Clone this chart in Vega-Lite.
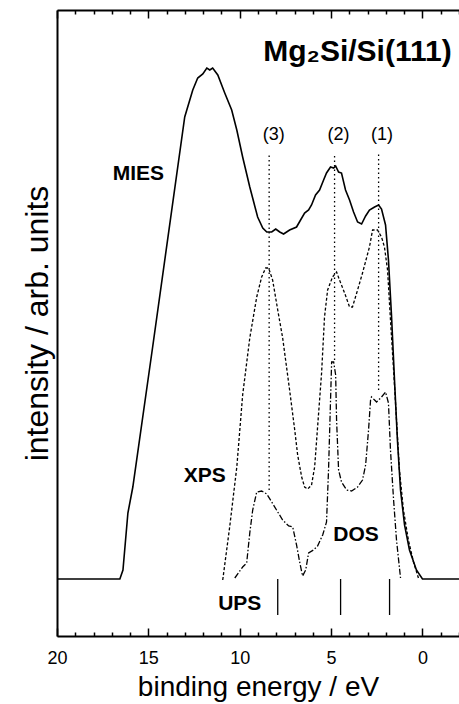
{
  "$schema": "https://vega.github.io/schema/vega-lite/v6.json",
  "autosize": "none",
  "width": 402,
  "height": 626,
  "padding": {"left": 57, "top": 10, "right": 0, "bottom": 68},
  "background": "white",
  "config": {
    "view": {"stroke": null},
    "font": "Liberation Sans",
    "axis": {"grid": false, "domainColor": "black", "tickColor": "black", "labelColor": "black", "titleColor": "black", "labelFont": "Liberation Sans", "titleFont": "Liberation Sans"}
  },
  "datasets": {
    "mies": [
      {"e": 20, "v": 57}, {"e": 16.56, "v": 57}, {"e": 16.39, "v": 66}, {"e": 16.12, "v": 123}, {"e": 15.85, "v": 149},
      {"e": 14.75, "v": 291}, {"e": 13.01, "v": 519}, {"e": 12.57, "v": 546}, {"e": 12.30, "v": 558}, {"e": 12.02, "v": 562},
      {"e": 11.80, "v": 568}, {"e": 11.64, "v": 566}, {"e": 11.48, "v": 568}, {"e": 11.20, "v": 561}, {"e": 10.82, "v": 543},
      {"e": 10.44, "v": 526}, {"e": 10.16, "v": 506}, {"e": 9.84, "v": 479}, {"e": 9.45, "v": 449}, {"e": 9.02, "v": 419},
      {"e": 8.74, "v": 408}, {"e": 8.52, "v": 404}, {"e": 8.25, "v": 404}, {"e": 8.03, "v": 407}, {"e": 7.81, "v": 404},
      {"e": 7.60, "v": 402}, {"e": 7.27, "v": 406}, {"e": 6.89, "v": 409}, {"e": 6.67, "v": 416}, {"e": 6.45, "v": 423},
      {"e": 6.23, "v": 426}, {"e": 6.07, "v": 431}, {"e": 5.85, "v": 441}, {"e": 5.63, "v": 446}, {"e": 5.41, "v": 456},
      {"e": 5.25, "v": 463}, {"e": 5.03, "v": 469}, {"e": 4.86, "v": 468}, {"e": 4.75, "v": 470}, {"e": 4.59, "v": 464},
      {"e": 4.43, "v": 463}, {"e": 4.21, "v": 446}, {"e": 3.99, "v": 436}, {"e": 3.77, "v": 424}, {"e": 3.55, "v": 414},
      {"e": 3.33, "v": 412}, {"e": 3.11, "v": 420}, {"e": 2.90, "v": 426}, {"e": 2.62, "v": 429}, {"e": 2.40, "v": 431},
      {"e": 2.24, "v": 427}, {"e": 2.02, "v": 411}, {"e": 1.86, "v": 376}, {"e": 1.69, "v": 319}, {"e": 1.53, "v": 256},
      {"e": 1.37, "v": 196}, {"e": 1.20, "v": 146}, {"e": 0.98, "v": 111}, {"e": 0.71, "v": 86}, {"e": 0.33, "v": 66},
      {"e": 0.0, "v": 57}, {"e": -2, "v": 57}
    ],
    "xps": [
      {"e": 10.93, "v": 56}, {"e": 10.55, "v": 109}, {"e": 10.16, "v": 169}, {"e": 9.84, "v": 241}, {"e": 9.45, "v": 298},
      {"e": 9.07, "v": 339}, {"e": 8.80, "v": 359}, {"e": 8.58, "v": 368}, {"e": 8.42, "v": 368}, {"e": 8.20, "v": 356},
      {"e": 7.92, "v": 326}, {"e": 7.65, "v": 298}, {"e": 7.27, "v": 246}, {"e": 6.99, "v": 206}, {"e": 6.83, "v": 181},
      {"e": 6.61, "v": 159}, {"e": 6.45, "v": 149}, {"e": 6.28, "v": 147}, {"e": 6.07, "v": 151}, {"e": 5.90, "v": 169},
      {"e": 5.63, "v": 236}, {"e": 5.52, "v": 263}, {"e": 5.36, "v": 319}, {"e": 5.19, "v": 346}, {"e": 4.92, "v": 359},
      {"e": 4.70, "v": 364}, {"e": 4.54, "v": 356}, {"e": 4.26, "v": 343}, {"e": 3.99, "v": 329}, {"e": 3.83, "v": 329},
      {"e": 3.55, "v": 346}, {"e": 3.28, "v": 363}, {"e": 2.90, "v": 389}, {"e": 2.73, "v": 406}, {"e": 2.46, "v": 406},
      {"e": 2.24, "v": 399}, {"e": 2.08, "v": 389}, {"e": 1.91, "v": 366}, {"e": 1.75, "v": 316}, {"e": 1.58, "v": 266},
      {"e": 1.42, "v": 216}, {"e": 1.26, "v": 166}, {"e": 1.04, "v": 126}, {"e": 0.77, "v": 96}, {"e": 0.49, "v": 74},
      {"e": 0.22, "v": 58}
    ],
    "dos": [
      {"e": 10.27, "v": 58}, {"e": 9.84, "v": 69}, {"e": 9.62, "v": 73}, {"e": 9.45, "v": 103}, {"e": 9.29, "v": 126},
      {"e": 9.07, "v": 144}, {"e": 8.80, "v": 145}, {"e": 8.52, "v": 142}, {"e": 8.25, "v": 134}, {"e": 7.92, "v": 124},
      {"e": 7.65, "v": 116}, {"e": 7.32, "v": 110}, {"e": 7.10, "v": 109}, {"e": 6.89, "v": 91}, {"e": 6.72, "v": 74},
      {"e": 6.56, "v": 60}, {"e": 6.39, "v": 66}, {"e": 6.23, "v": 83}, {"e": 5.96, "v": 86}, {"e": 5.74, "v": 90},
      {"e": 5.46, "v": 101}, {"e": 5.25, "v": 114}, {"e": 5.14, "v": 166}, {"e": 5.03, "v": 236}, {"e": 4.97, "v": 274},
      {"e": 4.86, "v": 274}, {"e": 4.75, "v": 261}, {"e": 4.70, "v": 216}, {"e": 4.59, "v": 166}, {"e": 4.43, "v": 154},
      {"e": 4.15, "v": 146}, {"e": 3.88, "v": 145}, {"e": 3.55, "v": 149}, {"e": 3.28, "v": 156}, {"e": 3.11, "v": 171},
      {"e": 2.95, "v": 206}, {"e": 2.84, "v": 236}, {"e": 2.79, "v": 239}, {"e": 2.62, "v": 236}, {"e": 2.51, "v": 234},
      {"e": 2.24, "v": 239}, {"e": 2.02, "v": 244}, {"e": 1.86, "v": 233}, {"e": 1.75, "v": 186}, {"e": 1.58, "v": 136},
      {"e": 1.42, "v": 96}, {"e": 1.20, "v": 58}
    ],
    "guides": [
      {"e": 8.39, "lo": 146, "hi": 481},
      {"e": 4.81, "lo": 276, "hi": 483},
      {"e": 2.40, "lo": 246, "hi": 483}
    ],
    "ups": [
      {"e": 7.92, "lo": 21, "hi": 57},
      {"e": 4.48, "lo": 21, "hi": 57},
      {"e": 1.80, "lo": 21, "hi": 57}
    ],
    "boldlabels": [
      {"t": "MIES", "e": 15.55, "v": 462},
      {"t": "XPS", "e": 11.91, "v": 160},
      {"t": "DOS", "e": 3.63, "v": 101},
      {"t": "UPS", "e": 10.0, "v": 32}
    ],
    "peaks": [
      {"t": "(3)", "e": 8.14, "v": 501},
      {"t": "(2)", "e": 4.59, "v": 501},
      {"t": "(1)", "e": 2.22, "v": 501}
    ],
    "title": [
      {"t": "Mg₂Si/Si(111)", "e": -1.6, "v": 584}
    ]
  },
  "resolve": {"axis": {"x": "independent", "y": "independent"}},
  "layer": [
    {
      "data": {"name": "mies"},
      "mark": {"type": "line", "color": "black", "strokeWidth": 1.6, "interpolate": "linear"},
      "encoding": {
        "x": {"field": "e", "type": "quantitative",
          "scale": {"domain": [-2, 20], "reverse": true, "nice": false, "zero": false},
          "axis": {
            "orient": "bottom",
            "values": [0, 5, 10, 15, 20],
            "labelFlush": false, "labelOverlap": false,
            "labelFontSize": 18, "labelPadding": 21,
            "domainWidth": 2,
            "tickWidth": 1.5,
            "tickSize": -8,
            "title": "binding energy / eV", "titleFontSize": 28, "titleFontWeight": "normal", "titlePadding": 6
          }},
        "y": {"field": "v", "type": "quantitative",
          "scale": {"domain": [0, 626], "nice": false, "zero": false},
          "axis": {"orient": "left", "ticks": false, "labels": false, "domainWidth": 2,
            "title": "intensity / arb. units", "titleFontSize": 32, "titleFontWeight": "normal", "titlePadding": 3}}
      }
    },
    {
      "data": {"name": "xps"},
      "mark": {"type": "line", "color": "black", "strokeWidth": 1.3, "strokeDash": [3, 2]},
      "encoding": {
        "x": {"field": "e", "type": "quantitative",
          "axis": {
            "orient": "top",
            "values": [0, 5, 10, 15, 20],
            "labels": false, "title": null,
            "domainWidth": 2, "tickWidth": 1.5, "tickSize": -8
          }},
        "y": {"field": "v", "type": "quantitative", "axis": null}
      }
    },
    {
      "data": {"name": "dos"},
      "mark": {"type": "line", "color": "black", "strokeWidth": 1.3, "strokeDash": [6, 2, 1.5, 2]},
      "encoding": {
        "x": {"field": "e", "type": "quantitative",
          "axis": {
            "orient": "bottom",
            "values": [-2, -1, 1, 2, 3, 4, 6, 7, 8, 9, 11, 12, 13, 14, 16, 17, 18, 19],
            "labels": false, "title": null, "domain": false,
            "tickWidth": 1.5, "tickSize": -4
          }},
        "y": {"field": "v", "type": "quantitative", "axis": null}
      }
    },
    {
      "data": {"name": "guides"},
      "mark": {"type": "rule", "color": "black", "strokeWidth": 1.3, "strokeDash": [1.5, 3]},
      "encoding": {
        "x": {"field": "e", "type": "quantitative",
          "axis": {
            "orient": "top",
            "values": [-2, -1, 1, 2, 3, 4, 6, 7, 8, 9, 11, 12, 13, 14, 16, 17, 18, 19],
            "labels": false, "title": null, "domain": false,
            "tickWidth": 1.5, "tickSize": -4
          }},
        "y": {"field": "lo", "type": "quantitative", "axis": null},
        "y2": {"field": "hi"}
      }
    },
    {
      "data": {"name": "ups"},
      "mark": {"type": "rule", "color": "black", "strokeWidth": 1.3},
      "encoding": {
        "x": {"field": "e", "type": "quantitative", "axis": null},
        "y": {"field": "lo", "type": "quantitative", "axis": null},
        "y2": {"field": "hi"}
      }
    },
    {
      "data": {"name": "boldlabels"},
      "mark": {"type": "text", "color": "black", "font": "Liberation Sans", "fontWeight": "bold", "fontSize": 21, "align": "center", "baseline": "middle"},
      "encoding": {
        "x": {"field": "e", "type": "quantitative", "axis": null},
        "y": {"field": "v", "type": "quantitative", "axis": null},
        "text": {"field": "t"}
      }
    },
    {
      "data": {"name": "peaks"},
      "mark": {"type": "text", "color": "black", "font": "Liberation Sans", "fontSize": 18, "align": "center", "baseline": "middle"},
      "encoding": {
        "x": {"field": "e", "type": "quantitative", "axis": null},
        "y": {"field": "v", "type": "quantitative", "axis": null},
        "text": {"field": "t"}
      }
    },
    {
      "data": {"name": "title"},
      "mark": {"type": "text", "color": "black", "font": "Liberation Sans", "fontWeight": "bold", "fontSize": 30, "align": "right", "baseline": "middle"},
      "encoding": {
        "x": {"field": "e", "type": "quantitative", "axis": null},
        "y": {"field": "v", "type": "quantitative", "axis": null},
        "text": {"field": "t"}
      }
    }
  ]
}
